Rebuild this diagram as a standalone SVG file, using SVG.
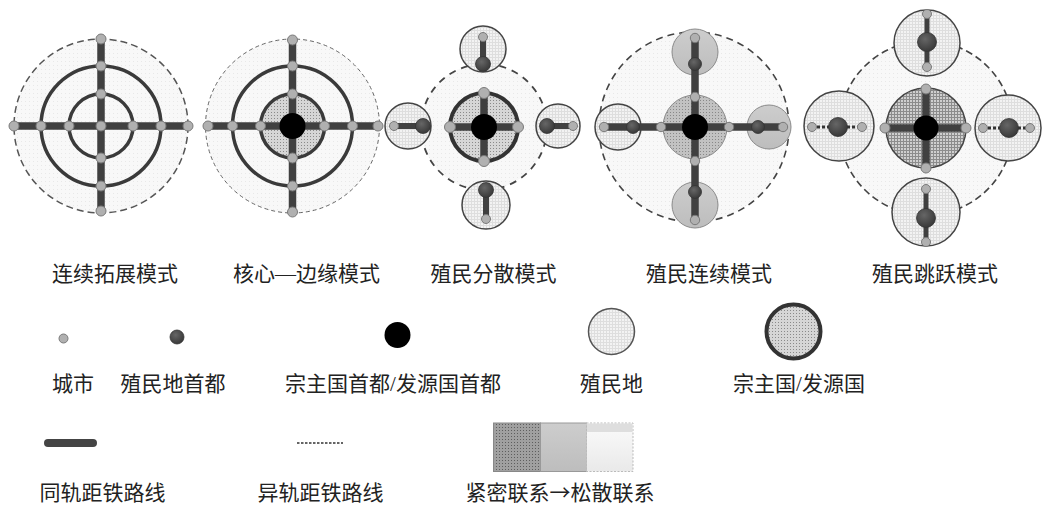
<svg xmlns="http://www.w3.org/2000/svg" width="1042" height="505" viewBox="0 0 1042 505">
<defs>
  <pattern id="pLight" width="4" height="4" patternUnits="userSpaceOnUse">
    <rect width="4" height="4" fill="#f8f8f8"/>
    <rect x="1" y="1" width="1" height="1" fill="#e8e8e8"/>
  </pattern>
  <pattern id="pGrid" width="3" height="3" patternUnits="userSpaceOnUse">
    <rect width="3" height="3" fill="#f3f3f3"/>
    <rect width="3" height="1" fill="#dedede"/>
    <rect width="1" height="3" fill="#dedede"/>
  </pattern>
  <pattern id="pDot" width="3" height="3" patternUnits="userSpaceOnUse">
    <rect width="3" height="3" fill="#d6d6d6"/>
    <rect x="1" y="1" width="1" height="1" fill="#8a8a8a"/>
  </pattern>
  <pattern id="pDot2" width="3" height="3" patternUnits="userSpaceOnUse">
    <rect width="3" height="3" fill="#c2c2c2"/>
    <rect x="1" y="1" width="1" height="1" fill="#888"/>
  </pattern>
  <pattern id="pHatch" width="3" height="3" patternUnits="userSpaceOnUse">
    <rect width="3" height="3" fill="#cfcfcf"/>
    <rect width="3" height="1" fill="#8c8c8c"/>
    <rect width="1" height="3" fill="#8c8c8c"/>
  </pattern>
  <pattern id="pDark" width="3" height="3" patternUnits="userSpaceOnUse">
    <rect width="3" height="3" fill="#a0a0a0"/>
    <rect x="1" y="1" width="1" height="1" fill="#5e5e5e"/>
  </pattern>
  <linearGradient id="gGrey" x1="0" y1="0" x2="0" y2="1">
    <stop offset="0" stop-color="#cdcdcd"/>
    <stop offset="1" stop-color="#bdbdbd"/>
  </linearGradient>
  <linearGradient id="gLight" x1="0" y1="0" x2="0" y2="1">
    <stop offset="0" stop-color="#fbfbfb"/>
    <stop offset="1" stop-color="#e9e9e9"/>
  </linearGradient>
  <radialGradient id="gCap" cx="0.4" cy="0.35" r="0.7">
    <stop offset="0" stop-color="#666"/>
    <stop offset="1" stop-color="#363636"/>
  </radialGradient>
</defs>
<style>
  .zone { fill: url(#pLight); stroke: #555; stroke-width: 1.5; stroke-dasharray: 7 4; }
  .zone2 { fill: url(#pLight); stroke: #666; stroke-width: 1; stroke-dasharray: 4 3; }
  .zone3 { fill: url(#pLight); stroke: #444; stroke-width: 1.8; stroke-dasharray: 7 6; }
  .ring { fill: none; stroke: #3a3a3a; stroke-width: 3.5; }
  .colony { fill: url(#pGrid); stroke: #444; stroke-width: 1.5; }
  .colonyG { fill: url(#gGrey); stroke: #8a8a8a; stroke-width: 1; }
  .arm { stroke: #404040; stroke-width: 7.5; fill: none; }
  .armT { stroke: #404040; stroke-width: 5; fill: none; }
  .armD { stroke: #333; stroke-width: 3; stroke-dasharray: 3 2; fill: none; }
  .city { fill: #b0b0b0; stroke: #7a7a7a; stroke-width: 1; }
  .cap { fill: url(#gCap); stroke: #333; stroke-width: 0.8; }
  .metro { fill: #000; }
  text { font-family: "Liberation Serif", "Noto Sans CJK SC", serif; font-size: 21px; fill: #222; text-anchor: middle; }
  .cjk { font-family: "Noto Sans CJK SC", sans-serif; }
</style>

<!-- regions -->
<g id="mode1-region">
  <circle class="zone" cx="101" cy="126" r="87"/>
  <circle class="ring" cx="101" cy="126" r="60"/>
  <circle class="ring" cx="101" cy="126" r="32"/>
</g>
<g id="mode2-region">
  <circle class="zone2" cx="292.5" cy="126" r="87"/>
  <circle class="ring" cx="292.5" cy="126" r="60"/>
  <circle cx="292.5" cy="126" r="32" fill="url(#pDot)" stroke="#3a3a3a" stroke-width="3.5"/>
</g>
<g id="mode3-region">
  <circle class="zone3" cx="484" cy="127" r="63"/>
  <circle class="colony" cx="483" cy="49" r="23"/>
  <circle class="colony" cx="408" cy="126" r="23"/>
  <circle class="colony" cx="558" cy="126" r="22"/>
  <circle class="colony" cx="486" cy="205" r="24"/>
  <circle cx="484" cy="127" r="34" fill="url(#pDot)" stroke="#333" stroke-width="4"/>
</g>
<g id="mode4-region">
  <circle class="zone3" cx="694" cy="127" r="95" style="stroke-dasharray:7 5;stroke-width:1.6"/>
  <circle class="colonyG" cx="695" cy="52" r="23"/>
  <circle class="colonyG" cx="769" cy="127" r="22"/>
  <circle class="colonyG" cx="695" cy="205" r="23"/>
  <circle class="colony" cx="618" cy="127" r="23"/>
  <circle cx="695" cy="127" r="32" fill="url(#pDot2)" stroke="#8a8a8a" stroke-width="1"/>
</g>
<g id="mode5-region">
  <circle class="zone3" cx="926" cy="128" r="87" style="stroke-dasharray:7 4;stroke-width:1.6"/>
  <circle class="colony" cx="927" cy="43" r="33"/>
  <circle class="colony" cx="839" cy="126" r="35"/>
  <circle class="colony" cx="1008" cy="128" r="33"/>
  <circle class="colony" cx="926" cy="212" r="34"/>
  <circle cx="926" cy="128" r="40" fill="url(#pHatch)" stroke="#444" stroke-width="1.5"/>
</g>

<!-- connectors (railway lines) -->
<g id="connectors">
  <line class="arm" x1="14" y1="126" x2="188" y2="126"/>
  <line class="arm" x1="101" y1="39" x2="101" y2="211"/>

  <line class="arm" x1="208" y1="126" x2="378" y2="126"/>
  <line class="arm" x1="292.5" y1="40" x2="292.5" y2="212"/>

  <line class="arm" x1="450" y1="127" x2="518" y2="127"/>
  <line class="arm" x1="484" y1="93" x2="484" y2="161"/>
  <line class="armT" x1="483" y1="37" x2="483" y2="64" style="stroke-width:6"/>
  <line class="armT" x1="394" y1="126" x2="423" y2="126" style="stroke-width:6"/>
  <line class="armT" x1="547" y1="126" x2="573" y2="126" style="stroke-width:6"/>
  <line class="armT" x1="486" y1="190" x2="486" y2="219" style="stroke-width:6"/>

  <line class="arm" x1="604" y1="127" x2="783" y2="127"/>
  <line class="arm" x1="695" y1="38" x2="695" y2="220"/>

  <line class="arm" x1="885" y1="128" x2="966" y2="128"/>
  <line class="arm" x1="926" y1="89" x2="926" y2="168"/>
  <line class="armT" x1="927" y1="14" x2="927" y2="67"/>
  <line class="armT" x1="926" y1="189" x2="926" y2="242"/>
  <line class="armD" x1="812" y1="127" x2="862" y2="127"/>
  <line class="armD" x1="983" y1="128" x2="1030" y2="128"/>

  <line id="legend-same-gauge" x1="48" y1="443" x2="93" y2="443" stroke="#444" stroke-width="8" stroke-linecap="round"/>
  <line id="legend-diff-gauge" x1="297" y1="443" x2="343" y2="443" stroke="#333" stroke-width="1.5" stroke-dasharray="2.5 1.5"/>
</g>

<!-- point nodes -->
<g id="mode1-nodes">
  <circle class="city" cx="14" cy="126" r="5"/>
  <circle class="city" cx="41" cy="126" r="5"/>
  <circle class="city" cx="69" cy="126" r="5"/>
  <circle class="city" cx="101" cy="126" r="5"/>
  <circle class="city" cx="133" cy="126" r="5"/>
  <circle class="city" cx="161" cy="126" r="5"/>
  <circle class="city" cx="188" cy="126" r="5"/>
  <circle class="city" cx="101" cy="39" r="5"/>
  <circle class="city" cx="101" cy="66" r="5"/>
  <circle class="city" cx="101" cy="94" r="5"/>
  <circle class="city" cx="101" cy="158" r="5"/>
  <circle class="city" cx="101" cy="186" r="5"/>
  <circle class="city" cx="101" cy="211" r="5"/>
</g>
<g id="mode2-nodes">
  <circle class="city" cx="208" cy="126" r="5"/>
  <circle class="city" cx="232.5" cy="126" r="5"/>
  <circle class="city" cx="260.5" cy="126" r="5"/>
  <circle class="city" cx="324.5" cy="126" r="5"/>
  <circle class="city" cx="352.5" cy="126" r="5"/>
  <circle class="city" cx="378" cy="126" r="5"/>
  <circle class="city" cx="292.5" cy="40" r="5"/>
  <circle class="city" cx="292.5" cy="66" r="5"/>
  <circle class="city" cx="292.5" cy="94" r="5"/>
  <circle class="city" cx="292.5" cy="158" r="5"/>
  <circle class="city" cx="292.5" cy="186" r="5"/>
  <circle class="city" cx="292.5" cy="212" r="5"/>
  <circle class="metro" cx="292.5" cy="126" r="13"/>
</g>
<g id="mode3-nodes">
  <circle class="city" cx="450" cy="127" r="5.5"/>
  <circle class="city" cx="518" cy="127" r="5.5"/>
  <circle class="city" cx="484" cy="93" r="5.5"/>
  <circle class="city" cx="484" cy="161" r="5.5"/>
  <circle class="metro" cx="484" cy="127" r="13"/>
  <circle class="city" cx="483" cy="37" r="4.5"/>
  <circle class="cap" cx="483" cy="64" r="7.5"/>
  <circle class="city" cx="394" cy="126" r="4.5"/>
  <circle class="cap" cx="423" cy="126" r="7.5"/>
  <circle class="cap" cx="547" cy="126" r="7.5"/>
  <circle class="city" cx="573" cy="126" r="4.5"/>
  <circle class="cap" cx="486" cy="190" r="7.5"/>
  <circle class="city" cx="486" cy="219" r="4.5"/>
</g>
<g id="mode4-nodes">
  <circle class="city" cx="604" cy="127" r="4.7"/>
  <circle class="cap" cx="633" cy="127" r="6.5"/>
  <circle class="city" cx="661" cy="127" r="4.7"/>
  <circle class="city" cx="729" cy="127" r="4.7"/>
  <circle class="cap" cx="758" cy="127" r="6.5"/>
  <circle class="city" cx="783" cy="127" r="4.7"/>
  <circle class="city" cx="695" cy="38" r="4.7"/>
  <circle class="cap" cx="695" cy="64" r="6.5"/>
  <circle class="city" cx="695" cy="97" r="4.7"/>
  <circle class="city" cx="695" cy="161" r="4.7"/>
  <circle class="cap" cx="695" cy="192" r="6.5"/>
  <circle class="city" cx="695" cy="220" r="4.7"/>
  <circle class="metro" cx="695" cy="127" r="13"/>
</g>
<g id="mode5-nodes">
  <circle class="city" cx="885" cy="128" r="5"/>
  <circle class="city" cx="966" cy="128" r="5"/>
  <circle class="city" cx="926" cy="89" r="5"/>
  <circle class="city" cx="926" cy="168" r="5"/>
  <circle class="metro" cx="926" cy="128" r="12.5"/>
  <circle class="city" cx="927" cy="14" r="4.5"/>
  <circle class="cap" cx="927" cy="42" r="9.5"/>
  <circle class="city" cx="927" cy="67" r="4.5"/>
  <circle class="city" cx="812" cy="127" r="4.5"/>
  <circle class="cap" cx="838" cy="127" r="9.5"/>
  <circle class="city" cx="862" cy="127" r="4.5"/>
  <circle class="city" cx="983" cy="128" r="4.5"/>
  <circle class="cap" cx="1009" cy="128" r="9.5"/>
  <circle class="city" cx="1030" cy="128" r="4.5"/>
  <circle class="city" cx="926" cy="189" r="4.5"/>
  <circle class="cap" cx="926" cy="218" r="9.5"/>
  <circle class="city" cx="926" cy="242" r="4.5"/>
</g>

<!-- mode titles -->
<g id="titles">
  <text x="115" y="281">连续拓展模式</text>
  <text x="306.5" y="281">核心—边缘模式</text>
  <text x="493.5" y="281">殖民分散模式</text>
  <text x="709" y="281">殖民连续模式</text>
  <text x="935" y="281">殖民跳跃模式</text>
</g>

<!-- legend -->
<g id="legend-city">
  <circle class="city" cx="63.5" cy="338.5" r="4.5"/>
  <text x="73" y="391">城市</text>
</g>
<g id="legend-colony-capital">
  <circle class="cap" cx="177" cy="337" r="7"/>
  <text x="173" y="391">殖民地首都</text>
</g>
<g id="legend-metro-capital">
  <circle class="metro" cx="397.5" cy="335" r="13"/>
  <text x="393" y="391">宗主国首都/发源国首都</text>
</g>
<g id="legend-colony">
  <circle cx="611.5" cy="331.5" r="23" fill="url(#pGrid)" stroke="#555" stroke-width="1.5"/>
  <text x="611.5" y="391">殖民地</text>
</g>
<g id="legend-metropolis">
  <circle cx="793.5" cy="331.5" r="27" fill="url(#pDot)" stroke="#333" stroke-width="4"/>
  <text x="799" y="391">宗主国/发源国</text>
</g>
<g id="legend-same-gauge-label">
  <text x="102.5" y="500">同轨距铁路线</text>
</g>
<g id="legend-diff-gauge-label">
  <text x="320.5" y="500">异轨距铁路线</text>
</g>
<g id="legend-link">
  <rect x="493.5" y="423" width="47" height="48.5" fill="url(#pDark)" stroke="#888" stroke-width="1"/>
  <rect x="540.5" y="423" width="46" height="48.5" fill="url(#gGrey)" stroke="#999" stroke-width="1"/>
  <rect x="586.5" y="423" width="46.5" height="48.5" fill="url(#gLight)" stroke="#bbb" stroke-width="1" stroke-dasharray="2 1.5"/>
  <rect x="587" y="423.5" width="45.5" height="8.5" fill="#dedede"/>
  <text x="560" y="500">紧密联系<tspan class="cjk">→</tspan>松散联系</text>
</g>
</svg>
